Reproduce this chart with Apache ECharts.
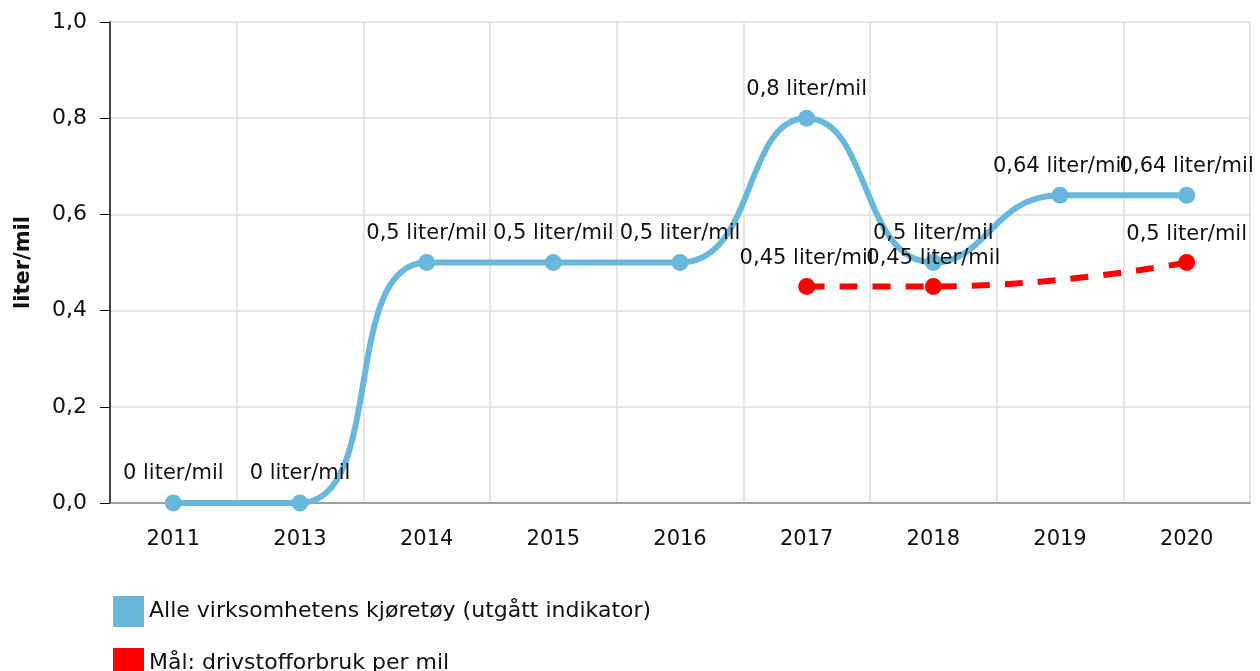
<!DOCTYPE html>
<html>
<head>
<meta charset="utf-8">
<script src="https://cdn.jsdelivr.net/npm/echarts@6/dist/echarts.min.js"></script>
<style>
  html, body { margin: 0; padding: 0; background: #fff; }
  #chart { width: 1260px; height: 671px; }
</style>
</head>
<body>
<div id="chart"></div>
<script>
const years = ['2011', '2013', '2014', '2015', '2016', '2017', '2018', '2019', '2020'];
const allVehicles = [0, 0, 0.5, 0.5, 0.5, 0.8, 0.5, 0.64, 0.64];
const target = [null, null, null, null, null, 0.45, 0.45, null, 0.5];
const yTicks = [0, 0.2, 0.4, 0.6, 0.8, 1.0];
const seriesNames = ['Alle virksomhetens kjøretøy (utgått indikator)', 'Mål: drivstofforbruk per mil'];

const font = 'DejaVu Sans';
const fs = 21;
const comma = v => String(v).replace('.', ',');

const chart = echarts.init(document.getElementById('chart'));

// one legend per item so the second row is not wrapped into a column
const legendBase = {
    left: 108,
    itemWidth: 31,
    itemHeight: 31,
    itemGap: 8,
    icon: 'rect',
    textStyle: { fontFamily: font, fontSize: 22, color: '#111' }
};

chart.setOption({
    animation: false,
    textStyle: { fontFamily: font },
    grid: { left: 110, right: 10, top: 22, bottom: 168 },
    legend: [
        Object.assign({}, legendBase, { top: 591, data: [seriesNames[0]] }),
        Object.assign({}, legendBase, { top: 643, data: [seriesNames[1]] })
    ],
    xAxis: {
        type: 'category',
        data: years,
        boundaryGap: true,
        axisLine: { lineStyle: { color: '#888', width: 1.5 } },
        axisTick: { alignWithLabel: true, length: 10, lineStyle: { color: '#aaa' } },
        axisLabel: { fontSize: fs, color: '#111', margin: 26, fontFamily: font },
        splitLine: { show: true, lineStyle: { color: '#ddd', width: 1.5 } }
    },
    yAxis: {
        type: 'value',
        min: yTicks[0],
        max: yTicks[yTicks.length - 1],
        interval: 0.2,
        name: 'liter/mil',
        nameLocation: 'middle',
        nameGap: 76,
        nameTextStyle: { fontSize: fs, fontWeight: 'bold', color: '#111', fontFamily: font },
        axisLine: { show: true, lineStyle: { color: '#111', width: 1.5 } },
        axisTick: { show: true, length: 10, lineStyle: { color: '#111' } },
        axisLabel: {
            fontSize: 22, color: '#111', margin: 23, fontFamily: font,
            formatter: v => v.toFixed(1).replace('.', ',')
        },
        splitLine: { lineStyle: { color: '#ddd', width: 1.5 } }
    },
    series: [
        {
            name: seriesNames[0],
            type: 'line',
            data: allVehicles,
            smooth: 0.5,
            symbol: 'circle',
            symbolSize: 17,
            itemStyle: { color: '#69b8dc' },
            lineStyle: { width: 6, color: '#69b8dc' },
            label: {
                show: true, position: 'top', distance: 10,
                fontSize: fs, color: '#111', fontFamily: font,
                formatter: p => comma(p.value) + ' liter/mil'
            }
        },
        {
            name: seriesNames[1],
            type: 'line',
            data: target,
            connectNulls: true,
            smooth: 0.5,
            symbol: 'circle',
            symbolSize: 17,
            itemStyle: { color: '#ff0000' },
            lineStyle: { width: 6, color: '#ff0000', type: [18, 15] },
            label: {
                show: true, position: 'top', distance: 9,
                fontSize: fs, color: '#111', fontFamily: font,
                formatter: p => comma(p.value) + ' liter/mil'
            }
        }
    ]
});
</script>
</body>
</html>
